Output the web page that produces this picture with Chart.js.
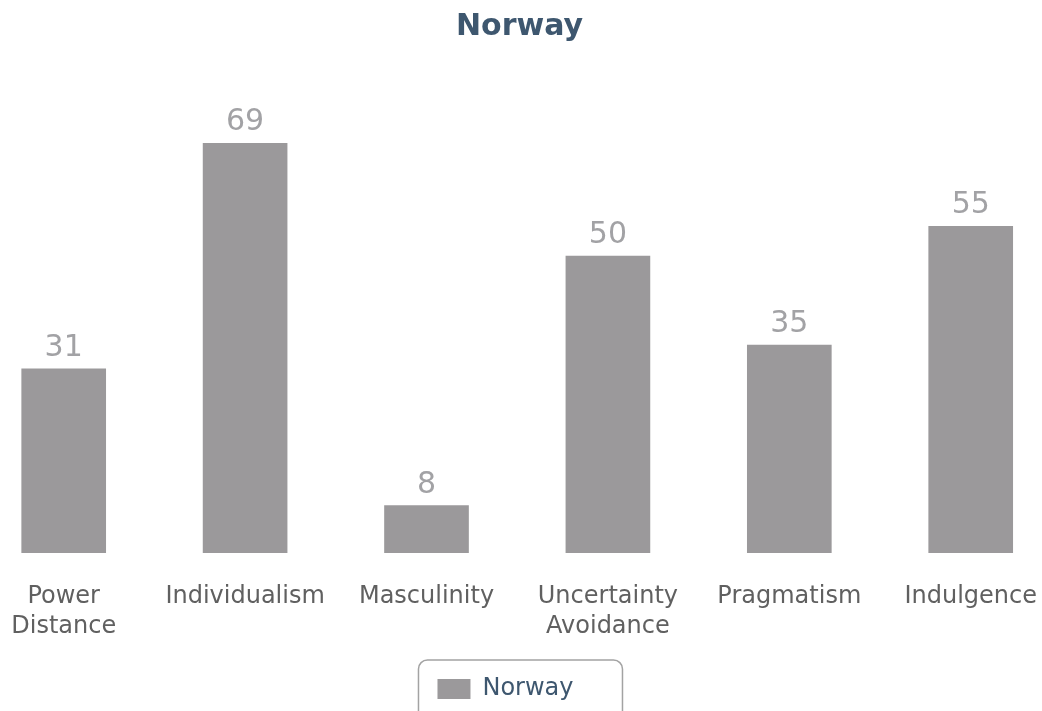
<!DOCTYPE html>
<html>
<head>
<meta charset="utf-8">
<title>Norway</title>
<script src="https://cdn.jsdelivr.net/npm/chart.js@4.4.0/dist/chart.umd.min.js"></script>
<style>
  html, body { margin: 0; padding: 0; background: #fff; overflow: hidden; }
  /* le graphique d'origine est rogné à gauche et à droite */
  #wrap { position: absolute; left: -27px; top: 0; width: 1093px; height: 711px; }
</style>
</head>
<body>
<div id="wrap"><canvas id="hofstedeChart"></canvas></div>
<script>
// données du graphique
const countryName = 'Norway';
const dimensions = [['Power', 'Distance'], 'Individualism', 'Masculinity', ['Uncertainty', 'Avoidance'], 'Pragmatism', 'Indulgence'];
const scores = [31, 69, 8, 50, 35, 55];
const scoreRange = [0, 80];

const barGrey = '#9b999b';
const titleBlue = '#3e576f';
const legendShift = 14; // la légende est un peu à gauche du centre

// valeurs au-dessus des barres
const valueLabels = {
	id: 'valueLabels',
	afterDatasetsDraw(chart) {
		const ctx = chart.ctx;
		const meta = chart.getDatasetMeta(0);
		ctx.save();
		ctx.font = '30px "DejaVu Sans"';
		ctx.fillStyle = '#a2a2a5';
		ctx.textAlign = 'center';
		ctx.textBaseline = 'alphabetic';
		meta.data.forEach((bar, i) => {
			ctx.fillText(chart.data.datasets[0].data[i], bar.x, bar.y - 13);
		});
		ctx.restore();
	}
};

// décale la légende puis dessine un cadre arrondi autour
const legendFrame = {
	id: 'legendFrame',
	afterLayout(chart) {
		chart.legend.left -= legendShift;
		chart.legend.right -= legendShift;
	},
	afterDraw(chart) {
		const box = chart.legend.legendHitBoxes[0];
		if (!box) return;
		const ctx = chart.ctx;
		const cy = box.top + box.height / 2;
		ctx.save();
		ctx.strokeStyle = '#a3a3a3';
		ctx.lineWidth = 1.5;
		ctx.beginPath();
		ctx.roundRect(box.left - 19, cy - 29, 204, 80, 9);
		ctx.stroke();
		ctx.restore();
	}
};

const ctx = document.getElementById('hofstedeChart').getContext('2d');
const chart = new Chart(ctx, {
	type: 'bar',
	data: {
		labels: dimensions,
		datasets: [{
			label: countryName,
			data: scores,
			backgroundColor: barGrey,
			borderWidth: 0,
			barThickness: 84
		}]
	},
	options: {
		responsive: true,
		maintainAspectRatio: false,
		animation: false,
		events: [],
		layout: {
			padding: 0
		},
		scales: {
			x: {
				offset: true,
				grid: { display: false, drawTicks: false },
				border: { display: false },
				ticks: {
					padding: 29,
					maxRotation: 0,
					autoSkip: false,
					color: '#606060',
					font: { family: 'DejaVu Sans', size: 24, lineHeight: 1.25 }
				}
			},
			y: {
				display: false,
				min: scoreRange[0],
				max: scoreRange[1]
			}
		},
		plugins: {
			title: {
				display: true,
				text: countryName,
				color: titleBlue,
				font: { family: 'DejaVu Sans', size: 30, weight: 'bold', lineHeight: 1.2 },
				padding: { top: 9, bottom: 33 }
			},
			legend: {
				position: 'bottom',
				labels: {
					boxWidth: 33,
					boxHeight: 20,
					padding: 6,
					color: titleBlue,
					font: { family: 'DejaVu Sans', size: 24, lineHeight: 1.2 }
				}
			},
			tooltip: { enabled: false }
		}
	},
	plugins: [valueLabels, legendFrame]
});
</script>
</body>
</html>
